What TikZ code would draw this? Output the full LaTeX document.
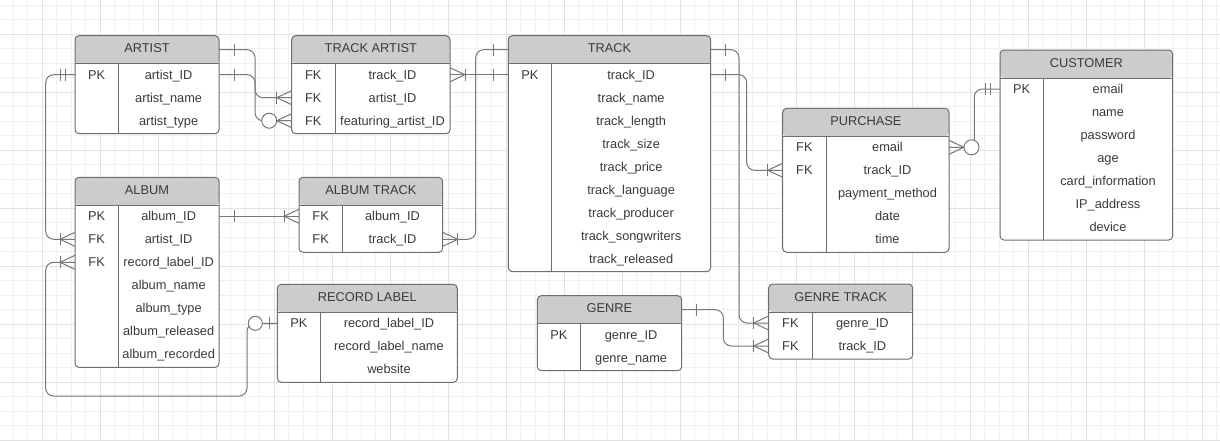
\documentclass[tikz,border=0pt]{standalone}
\usepackage{fontspec}
\setmainfont{Liberation Sans}
\usetikzlibrary{calc}
\definecolor{headfill}{HTML}{CCCCCC}
\definecolor{bordercol}{HTML}{6E6E6E}
\definecolor{linecol}{HTML}{777777}
\definecolor{txtcol}{HTML}{3A3A3A}
\definecolor{gridminor}{HTML}{F1F1F1}
\definecolor{gridmajor}{HTML}{E2E2E2}
\tikzset{
  entbox/.style={draw=bordercol, line width=1pt, rounded corners=4pt, fill=white,
    outer sep=0pt, inner sep=0pt,
    path picture={\fill[headfill] ([yshift=-28pt]path picture bounding box.north west)
      rectangle (path picture bounding box.north east);}},
  enttext/.style={inner sep=0pt, text=txtcol, font=\fontsize{12.8}{15}\selectfont,
    text height=9.2pt, text depth=0.2pt},
  divline/.style={draw=bordercol, line width=1pt},
  conn/.style={draw=linecol, line width=1pt, rounded corners=8pt},
  tipline/.style={draw=linecol, line width=1pt},
}
% #1 name, #2 left, #3 top, #4 width, #5 rows, #6 title, #7 key/attr list
\newcommand\erentity[7]{%
  \pgfmathsetmacro\ehgt{29+23*#5}
  \node[entbox, minimum width=#4pt, minimum height=\ehgt pt, anchor=north west] (#1) at (#2,#3) {};
  \node[enttext] (#1-h) at ($(#1.north west)+({#4/2},12.5)$) {#6};
  \coordinate (#1-hl) at ($(#1.north west)+(0,14)$);
  \coordinate (#1-hr) at ($(#1.north east)+(0,14)$);
  \draw[divline] ($(#1.north west)+(0,28)$) -- ($(#1.north east)+(0,28)$);
  \draw[divline] ($(#1.north west)+(43.3,28)$) -- ($(#1.south west)+(43.3,0)$);
  \foreach \k/\a [count=\i] in {#7} {
    \node[enttext] (#1-k\i) at ($(#1.north west)+(21.65,{16+23*\i})$) {\k};
    \node[enttext] (#1-\i) at ($(#1.north west)+({43.3+(#4-43.3)/2},{16+23*\i})$) {\a};
  }
}
\newcommand\tipone[2]{\draw[tipline] ($(#1)+({15*#2},-6)$) -- ($(#1)+({15*#2},6)$);}
\newcommand\tiponlyone[2]{\draw[tipline] ($(#1)+({10*#2},-6)$) -- ($(#1)+({10*#2},6)$);
  \draw[tipline] ($(#1)+({15*#2},-6)$) -- ($(#1)+({15*#2},6)$);}
\newcommand\tipmany[2]{\draw[tipline] ($(#1)+(0,-7)$) -- ($(#1)+({15*#2},0)$) -- ($(#1)+(0,7)$);}
\newcommand\tiponemany[2]{\tipmany{#1}{#2}\tipone{#1}{#2}}
\newcommand\tipzeromany[2]{\tipmany{#1}{#2}\draw[tipline, fill=white] ($(#1)+({22.5*#2},0)$) circle[radius=7.5];}
\newcommand\tipzeroone[2]{\draw[tipline] ($(#1)+({8*#2},-6)$) -- ($(#1)+({8*#2},6)$);
  \draw[tipline, fill=white] ($(#1)+({22*#2},0)$) circle[radius=7];}
\begin{document}
\begin{tikzpicture}[x=1pt, y=-1pt]
\useasboundingbox (0,0) rectangle (1220,440);
\fill[white] (0,0) rectangle (1220,440);
% grid
\foreach \x in {-15.7,-1.2,...,1221} \draw[gridminor, line width=1pt] (\x,0) -- (\x,440);
\foreach \y in {5,19.5,...,441} \draw[gridminor, line width=1pt] (0,\y) -- (1220,\y);
\foreach \x in {42.3,100.3,...,1221} \draw[gridmajor, line width=1pt] (\x,0) -- (\x,440);
\foreach \y in {34,92,...,441} \draw[gridmajor, line width=1pt] (0,\y) -- (1220,\y);

% entities
\erentity{artist}{75}{35.7}{144}{3}{ARTIST}{PK/artist\_ID,/artist\_name,/artist\_type}
\erentity{trackartist}{291.7}{35.7}{158.3}{3}{TRACK ARTIST}{FK/track\_ID,FK/artist\_ID,FK/featuring\_artist\_ID}
\erentity{album}{75}{177.3}{144}{7}{ALBUM}{PK/album\_ID,FK/artist\_ID,FK/record\_label\_ID,/album\_name,/album\_type,/album\_released,/album\_recorded}
\erentity{albumtrack}{299}{177.3}{143.7}{2}{ALBUM TRACK}{FK/album\_ID,FK/track\_ID}
\erentity{track}{508.3}{35.7}{202.4}{9}{TRACK}{PK/track\_ID,/track\_name,/track\_length,/track\_size,/track\_price,/track\_language,/track\_producer,/track\_songwriters,/track\_released}
\erentity{purchase}{782.7}{108.3}{166.3}{5}{PURCHASE}{FK/email,FK/track\_ID,/payment\_method,/date,/time}
\erentity{customer}{1000}{50}{172.7}{7}{CUSTOMER}{PK/email,/name,/password,/age,/card\_information,/IP\_address,/device}
\erentity{recordlabel}{277.3}{284.3}{180}{3}{RECORD LABEL}{PK/record\_label\_ID,/record\_label\_name,/website}
\erentity{genre}{537.3}{295.7}{144.4}{2}{GENRE}{PK/genre\_ID,/genre\_name}
\erentity{genretrack}{768.7}{284}{144}{2}{GENRE TRACK}{FK/genre\_ID,FK/track\_ID}

% connector end points
\coordinate (c1a) at (artist-hr);
\coordinate (c1b) at (trackartist.west |- trackartist-3);
\coordinate (c2a) at (artist.east |- artist-1);
\coordinate (c2b) at (trackartist.west |- trackartist-2);
\coordinate (c3a) at (trackartist.east |- trackartist-1);
\coordinate (c3b) at (track.west |- trackartist-1);
\coordinate (c4a) at (albumtrack.east |- albumtrack-2);
\coordinate (c4b) at (track-hl);
\coordinate (c5a) at (album.east |- album-1);
\coordinate (c5b) at (albumtrack.west |- album-1);
\coordinate (c6a) at (artist.west |- artist-1);
\coordinate (c6b) at (album.west |- album-2);
\coordinate (c7a) at (album.west |- album-3);
\coordinate (c7b) at (recordlabel.west |- recordlabel-1);
\coordinate (c8a) at (track-hr);
\coordinate (c8b) at (genretrack.west |- genretrack-1);
\coordinate (c9a) at (track.east |- track-1);
\coordinate (c9b) at (purchase.west |- purchase-2);
\coordinate (c10a) at (genre-hr);
\coordinate (c10b) at (genretrack.west |- genretrack-2);
\coordinate (c11a) at (customer.west |- customer-1);
\coordinate (c11b) at (purchase.east |- purchase-1);
% bend lines
\coordinate (v1) at (255,0);
\coordinate (v4) at (475.7,0);
\coordinate (v6) at (45.7,0);
\coordinate (v7l) at (45.7,396);
\coordinate (v7r) at (247,396);
\coordinate (v8) at (739,0);
\coordinate (v9) at (746.7,0);
\coordinate (v10) at (723.3,0);
\coordinate (v11) at (974.3,0);

% connectors
\draw[conn] (c1a) -| (v1 |- c1b) -- (c1b);
\draw[conn] (c2a) -| (v1 |- c2b) -- (c2b);
\draw[conn] (c3a) -- (c3b);
\draw[conn] (c4a) -| (v4 |- c4b) -- (c4b);
\draw[conn] (c5a) -- (c5b);
\draw[conn] (c6a) -| (v6 |- c6b) -- (c6b);
\draw[conn] (c7a) -| (v7l) -| (v7r |- c7b) -- (c7b);
\draw[conn] (c8a) -| (v8 |- c8b) -- (c8b);
\draw[conn] (c9a) -| (v9 |- c9b) -- (c9b);
\draw[conn] (c10a) -| (v10 |- c10b) -- (c10b);
\draw[conn] (c11a) -| (v11 |- c11b) -- (c11b);

% ends
\tipone{c1a}{1}      \tipzeromany{c1b}{-1}
\tipone{c2a}{1}      \tiponemany{c2b}{-1}
\tiponemany{c3a}{1}  \tipone{c3b}{-1}
\tiponemany{c4a}{1}  \tipone{c4b}{-1}
\tipone{c5a}{1}      \tiponemany{c5b}{-1}
\tiponlyone{c6a}{-1} \tiponemany{c6b}{-1}
\tiponemany{c7a}{-1} \tipzeroone{c7b}{-1}
\tipone{c8a}{1}      \tiponemany{c8b}{-1}
\tipone{c9a}{1}      \tiponemany{c9b}{-1}
\tipone{c10a}{1}     \tiponemany{c10b}{-1}
\tiponlyone{c11a}{-1} \tipzeromany{c11b}{1}
\end{tikzpicture}
\end{document}
